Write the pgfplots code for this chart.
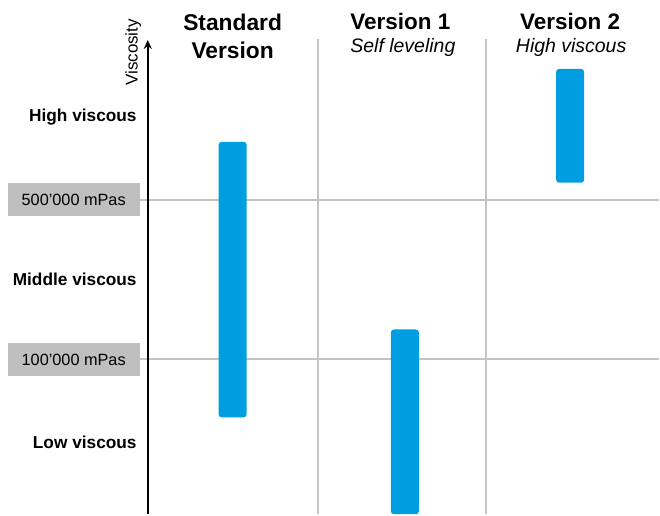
\documentclass[border=0pt]{standalone}
\usepackage{fontspec}
\setmainfont{Liberation Sans}
\usepackage{pgfplots}
\pgfplotsset{compat=1.18}
\usetikzlibrary{arrows.meta}

\definecolor{barblue}{HTML}{009EE0}
\definecolor{gridgray}{HTML}{C4C4C4}
\definecolor{boxgray}{HTML}{BFBFBF}

\begin{document}
\begin{tikzpicture}
\begin{axis}[
    scale only axis,
    width=512pt, height=475pt,
    xmin=148, xmax=660,
    ymin=0, ymax=475,
    axis y line=left,
    axis x line=none,
    y axis line style={line width=2pt, -{Stealth[length=9pt,width=8pt]}},
    ytick={155,315},
    yticklabels={100’000 mPas, 500’000 mPas},
    tick align=outside,
    major tick length=8pt,
    ytick style={gridgray, line width=2pt},
    ymajorgrids,
    grid style={gridgray, line width=2pt},
    yticklabel style={fill=boxgray, text=black, inner sep=0pt,
        minimum width=132pt, minimum height=33pt,
        font=\fontsize{16.3}{18}\selectfont},
    ybar stacked,
    bar width=28pt,
    clip=false,
]
% bounding box of the whole picture
\path (axis cs:0,0) rectangle (axis cs:660,515);
% vertical separators
\draw[gridgray, line width=2pt] (axis cs:318,0) -- (axis cs:318,476);
\draw[gridgray, line width=2pt] (axis cs:487,0) -- (axis cs:487,476);

% floating bars: invisible base + visible range
\addplot[draw=none, fill=none] coordinates {(233,97) (405.5,0) (571,332)};
\addplot[fill=barblue, draw=none, rounded corners=3pt] coordinates {(233,276) (405.5,185) (571,114)};

% viscosity classes
\node[anchor=east, inner sep=0pt, font=\bfseries\fontsize{17.3}{19}\selectfont] at (axis cs:137,398) {High viscous};
\node[anchor=east, inner sep=0pt, font=\bfseries\fontsize{17.3}{19}\selectfont] at (axis cs:137,235) {Middle viscous};
\node[anchor=east, inner sep=0pt, font=\bfseries\fontsize{17.3}{19}\selectfont] at (axis cs:137,72) {Low viscous};

% axis label
\node[rotate=90, font=\fontsize{17}{19}\selectfont] at (axis cs:133.5,462.5) {Viscosity};

% column headers
\node[font=\bfseries\fontsize{22.8}{24}\selectfont] at (axis cs:233,493) {Standard};
\node[font=\bfseries\fontsize{22.8}{24}\selectfont] at (axis cs:233,465) {Version};
\node[font=\bfseries\fontsize{22.5}{24}\selectfont] at (axis cs:401,493) {Version 1};
\node[font=\itshape\fontsize{19.5}{21}\selectfont] at (axis cs:403.5,467) {Self leveling};
\node[font=\bfseries\fontsize{22.5}{24}\selectfont] at (axis cs:571,493) {Version 2};
\node[font=\itshape\fontsize{19.5}{21}\selectfont] at (axis cs:572,467) {High viscous};
\end{axis}
\end{tikzpicture}
\end{document}
